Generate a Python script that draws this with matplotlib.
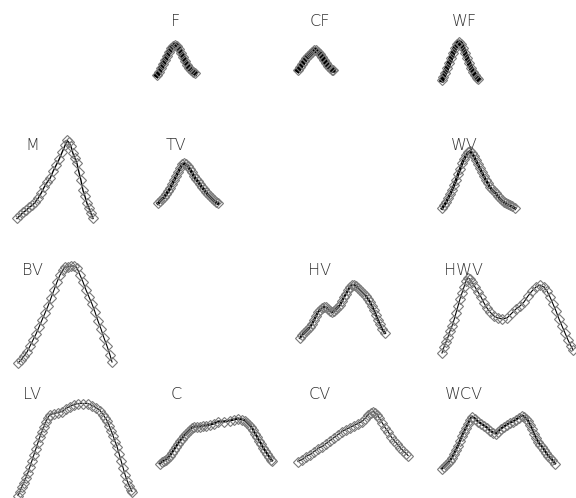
import matplotlib
matplotlib.use('Agg')
import matplotlib.pyplot as plt

# panel grid: (row, col) -> label, x values, y values (cell units, y measured downward)
F_x = [13, 15, 17, 19, 21, 23, 25, 27, 29, 31, 33, 35, 37, 39, 41, 43, 45, 47, 49, 51]
F_y = [75, 72, 68, 64, 60, 56, 52, 48, 46, 45, 46, 49, 53, 57, 61, 65, 68, 70, 72, 73]

CF_x = [10, 12, 14, 16, 18, 20, 22, 24, 26, 28, 30, 32, 34, 36, 38, 40, 42, 44, 45]
CF_y = [70, 67, 64, 61, 58, 56, 54, 52, 50, 50, 52, 54, 57, 60, 63, 66, 68, 70, 70]

WF_x = [10, 11, 13, 15, 17, 19, 21, 23, 25, 27, 29, 31, 33, 35, 37, 39, 41, 43, 45, 46]
WF_y = [80, 77, 73, 68, 63, 58, 53, 48, 44, 42, 44, 48, 53, 58, 63, 68, 72, 75, 78, 79]

M_x = [17, 20, 23, 26, 29, 32, 35, 38, 41, 44, 47, 50, 53, 56, 59, 62, 65, 67,
       69, 71, 73, 75, 77, 79, 81, 83, 85, 87, 89, 91, 93]
M_y = [94, 91, 88, 86, 83, 81, 78, 74, 69, 63, 58, 54, 47, 41, 35, 28, 21, 16,
       18, 22, 29, 34, 39, 48, 56, 66, 72, 79, 84, 89, 94]

TV_x = [14, 16, 18, 20, 22, 24, 26, 28, 30, 32, 34, 36, 38, 40, 42, 44, 46, 48,
        50, 52, 54, 56, 58, 60, 62, 64, 66, 68, 70, 72, 74]
TV_y = [79, 77, 75, 73, 70, 67, 64, 60, 56, 52, 48, 44, 40, 39, 40, 42, 45, 48,
        52, 55, 57, 60, 63, 65, 68, 70, 72, 74, 76, 78, 79]

WV_x = [10, 12, 14, 16, 18, 20, 22, 24, 26, 28, 30, 32, 34, 36, 38, 40, 42, 44,
        46, 48, 50, 52, 54, 56, 58, 60, 62, 64, 66, 68, 70, 72, 74, 76, 78, 80, 83]
WV_y = [84, 81, 78, 74, 70, 66, 61, 56, 50, 45, 39, 35, 31, 28, 27, 29, 32, 36,
        40, 44, 48, 52, 56, 59, 63, 65, 67, 69, 72, 74, 76, 78, 79, 80, 81, 82, 84]

BV_x = [18, 21, 24, 27, 30, 33, 36, 39, 42, 45, 48, 51, 54, 57, 60, 63, 65, 68, 71,
        74, 77, 80, 83, 86, 89, 92, 95, 98, 101, 104, 107, 110, 112]
BV_y = [114, 111, 107, 103, 97, 91, 85, 78, 71, 64, 57, 49, 41, 33, 26, 21, 18, 18, 17,
        17, 19, 26, 33, 41, 48, 55, 63, 72, 80, 89, 97, 106, 113]

HV_x = [12, 14, 16, 18, 20, 22, 24, 26, 28, 30, 32, 34, 36, 38, 40, 42, 44, 46, 48,
        50, 52, 54, 56, 58, 60, 62, 64, 66, 68, 70, 72, 74, 76, 78, 80, 82, 84, 86,
        88, 90, 92, 94, 97]
HV_y = [89, 86, 84, 82, 80, 78, 75, 71, 67, 63, 61, 59, 58, 58, 60, 62, 63, 62, 60,
        58, 56, 52, 48, 45, 41, 38, 36, 36, 37, 39, 41, 43, 45, 47, 50, 53, 57, 61,
        66, 71, 75, 80, 84]

HWV_x = [10, 12, 14, 16, 18, 20, 22, 24, 26, 28, 30, 32, 34, 36, 38, 40, 43, 46, 49,
         52, 55, 58, 62, 66, 70, 75, 80, 84, 88, 92, 96, 100, 104, 108, 112, 115, 118,
         121, 124, 127, 130, 133, 136, 139, 141]
HWV_y = [104, 98, 93, 88, 82, 77, 71, 64, 57, 50, 44, 38, 32, 29, 30, 33, 38, 43, 48,
         54, 59, 63, 67, 69, 70, 69, 64, 60, 57, 53, 47, 42, 38, 36, 38, 42, 48,
         55, 62, 70, 77, 84, 91, 97, 101]

LV_x = [18, 20, 22, 24, 26, 28, 30, 32, 34, 36, 38, 40, 42, 44, 46, 48, 50, 54, 58,
        62, 66, 70, 74, 78, 83, 88, 92, 96, 100, 103, 105, 107, 109, 111, 113, 115,
        117, 119, 121, 123, 125, 127, 129, 131, 132]
LV_y = [122, 118, 113, 109, 104, 99, 93, 87, 81, 75, 69, 63, 58, 53, 48, 44, 41, 40, 39,
        38, 35, 33, 31, 30, 30, 30, 32, 34, 37, 41, 44, 47, 52, 57, 62, 68,
        73, 80, 87, 94, 101, 107, 112, 116, 118]

C_x = [16, 18, 20, 22, 24, 26, 28, 30, 32, 34, 36, 38, 40, 42, 44, 46, 48, 50, 53,
       56, 59, 62, 66, 70, 74, 80, 86, 90, 94, 98, 101, 103, 105, 107, 109, 111,
       113, 115, 117, 119, 121, 123, 125, 127, 128]
C_y = [90, 88, 87, 86, 84, 82, 79, 76, 73, 70, 67, 65, 62, 60, 58, 56, 54, 53, 53,
       53, 52, 52, 51, 50, 48, 48, 47, 46, 45, 46, 47, 49, 51, 53, 56, 60,
       63, 67, 70, 74, 77, 80, 83, 86, 87]

CV_x = [10, 14, 18, 22, 26, 30, 34, 38, 42, 46, 50, 54, 58, 62, 66, 70, 74, 77, 80,
        83, 85, 87, 89, 91, 94, 97, 100, 103, 106, 109, 112, 115, 118, 120]
CV_y = [88, 86, 83, 81, 78, 75, 73, 70, 67, 64, 61, 58, 56, 54, 52, 50, 48, 45, 41,
        39, 38, 39, 41, 44, 49, 54, 58, 63, 67, 70, 74, 77, 80, 82]

WCV_x = [10, 12, 14, 16, 18, 20, 22, 24, 26, 28, 30, 32, 34, 36, 38, 40, 43, 46, 49,
         52, 55, 58, 61, 64, 66, 69, 72, 75, 78, 81, 84, 87, 90, 92, 94, 96, 98, 100,
         102, 104, 106, 108, 110, 112, 114, 116, 118, 120, 123]
WCV_y = [95, 93, 91, 89, 87, 84, 80, 76, 72, 67, 62, 58, 54, 50, 46, 43, 45, 48, 50,
         52, 54, 57, 59, 60, 58, 55, 53, 51, 49, 48, 46, 44, 42, 43, 45, 47, 51, 55,
         60, 64, 68, 71, 73, 76, 79, 82, 84, 86, 90]

panels = {
    (0, 1): ("F", F_x, F_y),
    (0, 2): ("CF", CF_x, CF_y),
    (0, 3): ("WF", WF_x, WF_y),
    (1, 0): ("M", M_x, M_y),
    (1, 1): ("TV", TV_x, TV_y),
    (1, 3): ("WV", WV_x, WV_y),
    (2, 0): ("BV", BV_x, BV_y),
    (2, 2): ("HV", HV_x, HV_y),
    (2, 3): ("HWV", HWV_x, HWV_y),
    (3, 0): ("LV", LV_x, LV_y),
    (3, 1): ("C", C_x, C_y),
    (3, 2): ("CV", CV_x, CV_y),
    (3, 3): ("WCV", WCV_x, WCV_y),
}

# darker panels have many overlapping members
line_w = {"F": 4.0, "CF": 4.0, "WF": 3.6, "TV": 2.2, "WV": 2.0, "HV": 1.6, "C": 1.6,
          "WCV": 1.6, "M": 1.0}

fig = plt.figure(figsize=(5.76, 4.98), dpi=100)
fig.patch.set_facecolor('white')

for (r, c), (name, xs, ys) in panels.items():
    ax = fig.add_axes([c / 4, 1 - (r + 1) / 4, 0.25, 0.25])
    ax.set_xlim(0, 144)
    ax.set_ylim(124.5, 0)
    ax.axis('off')
    ax.plot(xs, ys, color='black', lw=line_w.get(name, 0.8), zorder=1)
    ax.plot(xs, ys, ls='none', marker='D', ms=4.8, mfc='none', mec='#7a7a7a',
            mew=0.8, zorder=2)
    ax.text(32, 21, name, ha='center', va='center', fontsize=11.5, color='#333333',
            family='DejaVu Sans', fontweight='light')

plt.savefig("out.png", dpi=100)
plt.close()
